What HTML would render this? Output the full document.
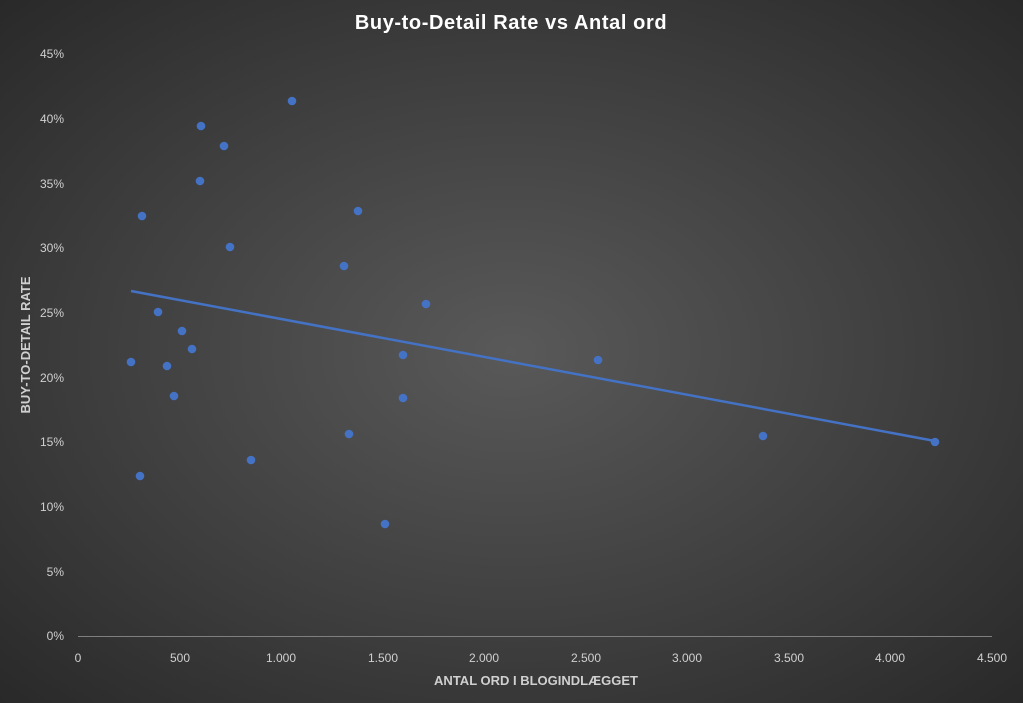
<!DOCTYPE html>
<html><head><meta charset="utf-8"><style>
html,body{margin:0;padding:0;width:1023px;height:703px;overflow:hidden}
body{background:radial-gradient(ellipse 75% 75% at 50% 50%,#595959 0%,#404040 50%,#262626 100%);font-family:"Liberation Sans",sans-serif}
</style></head><body>
<svg width="1023" height="703" xmlns="http://www.w3.org/2000/svg" font-family="Liberation Sans, sans-serif">
<text x="511" y="29" text-anchor="middle" fill="#fff" font-size="20" font-weight="bold" letter-spacing="0.6">Buy-to-Detail Rate vs Antal ord</text>
<line x1="78" y1="636.5" x2="992" y2="636.5" stroke="#7f7f7f" stroke-width="1"/>
<g fill="#d0d0d0" font-size="12" text-anchor="end">
<text x="64" y="640">0%</text><text x="64" y="576">5%</text><text x="64" y="511">10%</text>
<text x="64" y="446">15%</text><text x="64" y="382">20%</text><text x="64" y="317">25%</text>
<text x="64" y="252">30%</text><text x="64" y="188">35%</text><text x="64" y="123">40%</text><text x="64" y="58">45%</text>
</g>
<g fill="#d0d0d0" font-size="12" text-anchor="middle">
<text x="78" y="662">0</text><text x="180" y="662">500</text><text x="281" y="662">1.000</text>
<text x="383" y="662">1.500</text><text x="484" y="662">2.000</text><text x="586" y="662">2.500</text>
<text x="687" y="662">3.000</text><text x="789" y="662">3.500</text><text x="890" y="662">4.000</text><text x="992" y="662">4.500</text>
</g>
<text x="536" y="685" text-anchor="middle" fill="#d0d0d0" font-size="13" font-weight="bold">ANTAL ORD I BLOGINDLÆGGET</text>
<text transform="translate(30,345) rotate(-90)" text-anchor="middle" fill="#d0d0d0" font-size="13" font-weight="bold">BUY-TO-DETAIL RATE</text>
<line x1="131" y1="291" x2="935" y2="441" stroke="#4472c4" stroke-width="2.5"/>
<g fill="#4472c4">
<circle cx="131" cy="362" r="4.3"/><circle cx="142" cy="216" r="4.3"/><circle cx="140" cy="476" r="4.3"/>
<circle cx="158" cy="312" r="4.3"/><circle cx="167" cy="366" r="4.3"/><circle cx="174" cy="396" r="4.3"/>
<circle cx="182" cy="331" r="4.3"/><circle cx="192" cy="349" r="4.3"/><circle cx="201" cy="126" r="4.3"/>
<circle cx="200" cy="181" r="4.3"/><circle cx="224" cy="146" r="4.3"/><circle cx="230" cy="247" r="4.3"/>
<circle cx="251" cy="460" r="4.3"/><circle cx="292" cy="101" r="4.3"/><circle cx="344" cy="266" r="4.3"/>
<circle cx="349" cy="434" r="4.3"/><circle cx="358" cy="211" r="4.3"/><circle cx="385" cy="524" r="4.3"/>
<circle cx="403" cy="355" r="4.3"/><circle cx="403" cy="398" r="4.3"/><circle cx="426" cy="304" r="4.3"/>
<circle cx="598" cy="360" r="4.3"/><circle cx="763" cy="436" r="4.3"/><circle cx="935" cy="442" r="4.3"/>
</g>
</svg>
</body></html>
